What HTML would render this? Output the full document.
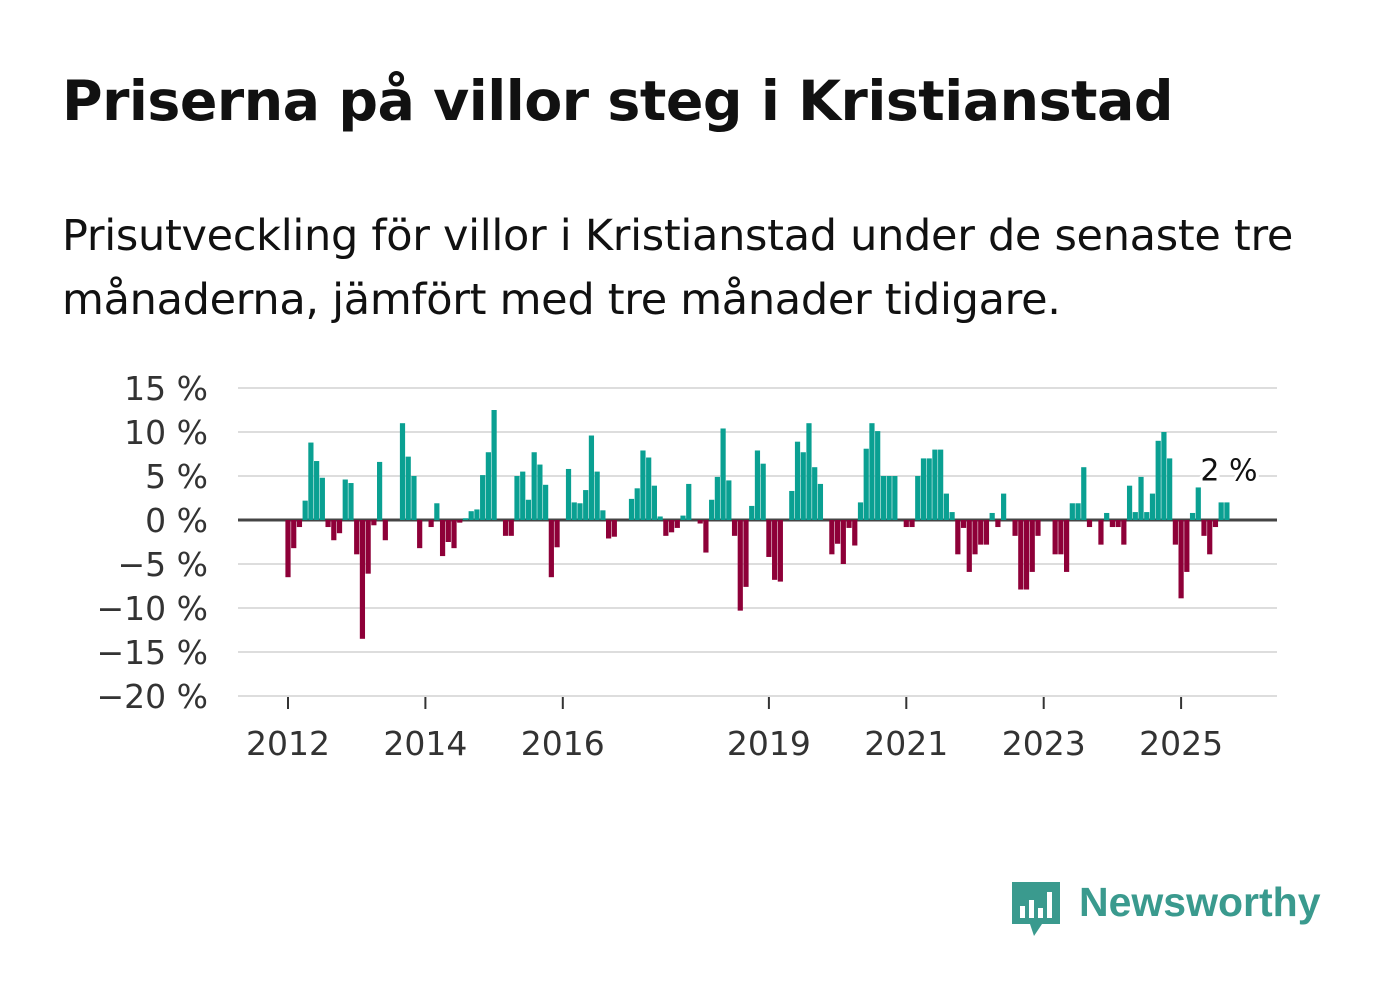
<!DOCTYPE html>
<html><head><meta charset="utf-8"><style>
body{margin:0;background:#fff;font-family:"Liberation Sans","DejaVu Sans",sans-serif;}
#wrap{position:relative;width:1382px;height:999px;overflow:hidden;}
h1{position:absolute;left:62px;top:70px;margin:0;font-size:55.4px;font-weight:bold;color:#111;font-family:"DejaVu Sans","Liberation Sans",sans-serif;letter-spacing:-0.5px;}
.sub{position:absolute;left:62px;top:204px;margin:0;font-size:43px;line-height:64px;color:#111;font-family:"DejaVu Sans","Liberation Sans",sans-serif;letter-spacing:-0.3px;width:1320px;}
</style></head><body>
<div id="wrap">
<h1>Priserna på villor steg i Kristianstad</h1>
<p class="sub">Prisutveckling för villor i Kristianstad under de senaste tre<br>månaderna, jämfört med tre månader tidigare.</p>
<svg id="chart" width="1382" height="999" style="position:absolute;left:0;top:0"></svg>
<svg width="60" height="64" style="position:absolute;left:1008px;top:878px">
<path d="M4 4 H52 V46 H34 L26 58 L22 46 H4 Z" fill="#3a9a8e"/>
<rect x="12" y="28" width="5" height="12" fill="#fff"/><rect x="21" y="22" width="5" height="18" fill="#fff"/><rect x="30" y="30" width="5" height="10" fill="#fff"/><rect x="39" y="14" width="5" height="26" fill="#fff"/>
</svg>
<div style="position:absolute;left:1079px;top:879px;font-size:41px;font-weight:bold;color:#3a9a8e;font-family:'Liberation Sans','DejaVu Sans',sans-serif;">Newsworthy</div>
</div>
<script>
const values=[-6.5,-3.2,-0.8,2.2,8.8,6.7,4.8,-0.8,-2.3,-1.5,4.6,4.2,-3.9,-13.5,-6.1,-0.6,6.6,-2.3,0,0,11.0,7.2,5.0,-3.2,0,-0.8,1.9,-4.1,-2.5,-3.2,-0.3,0.2,1.0,1.2,5.1,7.7,12.5,0,-1.8,-1.8,5.0,5.5,2.3,7.7,6.3,4.0,-6.5,-3.1,0,5.8,2.0,1.9,3.4,9.6,5.5,1.1,-2.1,-1.9,0,0,2.4,3.6,7.9,7.1,3.9,0.4,-1.8,-1.4,-0.9,0.5,4.1,0,-0.4,-3.7,2.3,4.9,10.4,4.5,-1.8,-10.3,-7.6,1.6,7.9,6.4,-4.2,-6.8,-7.0,0,3.3,8.9,7.7,11.0,6.0,4.1,0,-3.9,-2.7,-5.0,-0.9,-2.9,2.0,8.1,11.0,10.1,5,5,5,0,-0.8,-0.8,5,7,7,8,8,3,0.9,-3.9,-0.9,-5.9,-3.9,-2.8,-2.8,0.8,-0.8,3.0,0,-1.8,-7.9,-7.9,-5.9,-1.8,0,0,-3.9,-3.9,-5.9,1.9,1.9,6.0,-0.8,0,-2.8,0.8,-0.8,-0.8,-2.8,3.9,0.9,4.9,0.9,3.0,9.0,10.0,7.0,-2.8,-8.9,-5.9,0.8,3.7,-1.8,-3.9,-0.8,2.0,2.0];
const yTicks=[15,10,5,0,-5,-10,-15,-20];
const xTickYears=[2012,2014,2016,2019,2021,2023,2025];
const startYear=2012;
const lastLabel="2 %";
const svg=document.getElementById('chart');const NS='http://www.w3.org/2000/svg';
const y=v=>520-(v*8.8);
const xm=i=>288+i*5.725;
const X0=238,X1=1277;
function mk(t,a,p){const e=document.createElementNS(NS,t);for(const k in a)e.setAttribute(k,a[k]);(p||svg).appendChild(e);return e;}
yTicks.forEach(t=>{
 const g=mk('line',{x1:X0,x2:X1,y1:y(t),y2:y(t),stroke:t===0?'#444':'#ddd','stroke-width':t===0?3:2});
 
 
 const tx=mk('text',{x:208,y:y(t)+12,'text-anchor':'end','font-size':33,fill:'#333','font-family':'DejaVu Sans, Liberation Sans, sans-serif'});
 tx.textContent=(t<0?'\u2212'+(-t):t)+' %';
 
 
});
values.forEach((v,i)=>{
 if(v===0)return;
 const r=mk('rect',{x:xm(i)-2.6,width:5.2,y:Math.min(y(v),y(0)),height:Math.abs(y(v)-y(0)),fill:v>0?'#0aa092':'#8e0038'});
 
 
});
xTickYears.forEach(yr=>{
 const xx=xm((yr-startYear)*12);
 const l=mk('line',{x1:xx,x2:xx,y1:697,y2:709,stroke:'#333','stroke-width':2});
 
 
 const t=mk('text',{x:xx,y:755,'text-anchor':'middle','font-size':33,fill:'#333','font-family':'DejaVu Sans, Liberation Sans, sans-serif'});
 t.textContent=yr;
 
 
});
const li=values.length-1;
const lab=mk('text',{x:xm(li)+2,y:y(values[li])-22,'text-anchor':'middle','font-size':30,fill:'#111',stroke:'#fff','stroke-width':6,'paint-order':'stroke','font-family':'DejaVu Sans, Liberation Sans, sans-serif'});
lab.textContent=lastLabel;


</script>
</body></html>
